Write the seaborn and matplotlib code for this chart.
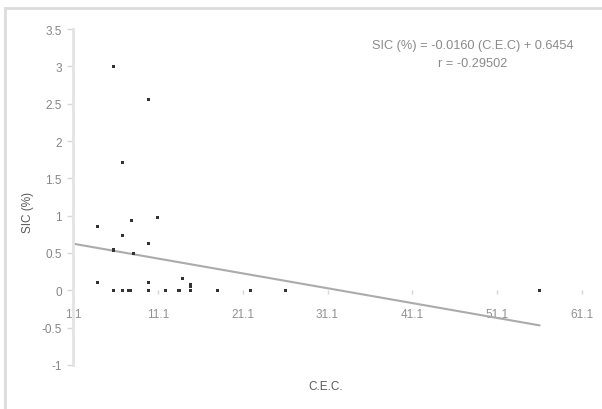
import matplotlib
matplotlib.use("Agg")
import matplotlib.pyplot as plt
import seaborn as sns
import pandas as pd
import numpy as np
from matplotlib.patches import Rectangle

# ---- data ----
cec = [4.0, 8.0, 11.1, 6.9, 10.0, 4.0, 10.0, 14.0, 15.0, 15.0, 5.9, 10.0, 6.9,
       5.9, 8.2,
       5.9, 6.9, 7.7, 7.9, 10.0, 12.0, 13.6, 15.0, 18.1, 22.0, 26.1, 56.1]
sic = [0.85, 0.94, 0.97, 0.73, 0.63, 0.10, 0.10, 0.16, 0.05, 0.08, 3.0, 2.55, 1.71,
       0.54, 0.49,
       0.0, 0.0, 0.0, 0.0, 0.0, 0.0, 0.0, 0.0, 0.0, 0.0, 0.0, 0.0]
trend_intercept = 0.647   # as drawn in the picture
trend_slope = -0.0199     # as drawn in the picture
trend_x_range = [1.1, 56.1]
x_ticks = [1.1, 11.1, 21.1, 31.1, 41.1, 51.1, 61.1]
y_ticks = [-1, -0.5, 0, 0.5, 1, 1.5, 2, 2.5, 3, 3.5]
y_tick_labels = ["-1", "-0.5", "0", "0.5", "1", "1.5", "2", "2.5", "3", "3.5"]
equation_text = "SIC (%) = -0.0160 (C.E.C) + 0.6454"
r_text = "r = -0.29502"
x_label = "C.E.C."
y_label = "SIC (%)"

df = pd.DataFrame({"cec": cec, "sic": sic})
tx = np.array(trend_x_range)
trend_df = pd.DataFrame({"x": tx, "y": trend_intercept + trend_slope * tx})

sns.set_theme(style="white")
plt.rcParams["font.family"] = ["Liberation Sans", "DejaVu Sans"]

fig = plt.figure(figsize=(6.02, 4.10), dpi=100)
fig.patches.append(Rectangle((5 / 602, -0.05), 1.2, 1 - 9 / 410 + 0.05,
                             transform=fig.transFigure, fill=False,
                             edgecolor="#dcdcdc", linewidth=2.0, zorder=0))
ax = fig.add_axes([73 / 602, 1 - 366 / 410, (582 - 73) / 602, (366 - 30) / 410])

sns.lineplot(data=trend_df, x="x", y="y", ax=ax, color="#ababab", linewidth=1.5)
sns.scatterplot(data=df, x="cec", y="sic", ax=ax, marker="s", s=5,
                color="#333333", edgecolor="none", zorder=3)

ax.set_xlim(1.1, 61.1)
ax.set_ylim(-1, 3.5)
ax.set_xticks(x_ticks)
ax.set_xticklabels([f"{v:.1f}" for v in x_ticks])
ax.set_yticks(y_ticks)
ax.set_yticklabels(y_tick_labels)

for s in ["top", "right"]:
    ax.spines[s].set_visible(False)
ax.spines["bottom"].set_position(("data", 0))
ax.spines["bottom"].set_visible(False)
ax.spines["left"].set_color("#e3e3e3")
ax.spines["left"].set_linewidth(2.0)

ax.tick_params(axis="y", which="major", direction="out", length=4, width=1,
               color="#d6d6d6", labelsize=8.5, labelcolor="#858585", pad=4, left=True)
ax.tick_params(axis="x", which="major", direction="out", length=3, width=1,
               color="#d6d6d6", labelsize=8.5, labelcolor="#909090", pad=10, bottom=True)

ax.set_xlabel("")
ax.set_ylabel("")
fig.text(28 / 602, 1 - 212 / 410, y_label, rotation=90, ha="center", va="center",
         fontsize=8.5, color="#5a5a5a")
fig.text(326 / 602, 1 - 387 / 410, x_label, ha="center", va="center",
         fontsize=8.5, color="#5a5a5a")
fig.text(473 / 602, 1 - 46 / 410, equation_text, ha="center", va="center",
         fontsize=9.2, color="#8a8a8a")
fig.text(473 / 602, 1 - 64 / 410, r_text, ha="center", va="center",
         fontsize=9.2, color="#8a8a8a")

fig.savefig("out.png", dpi=100)
